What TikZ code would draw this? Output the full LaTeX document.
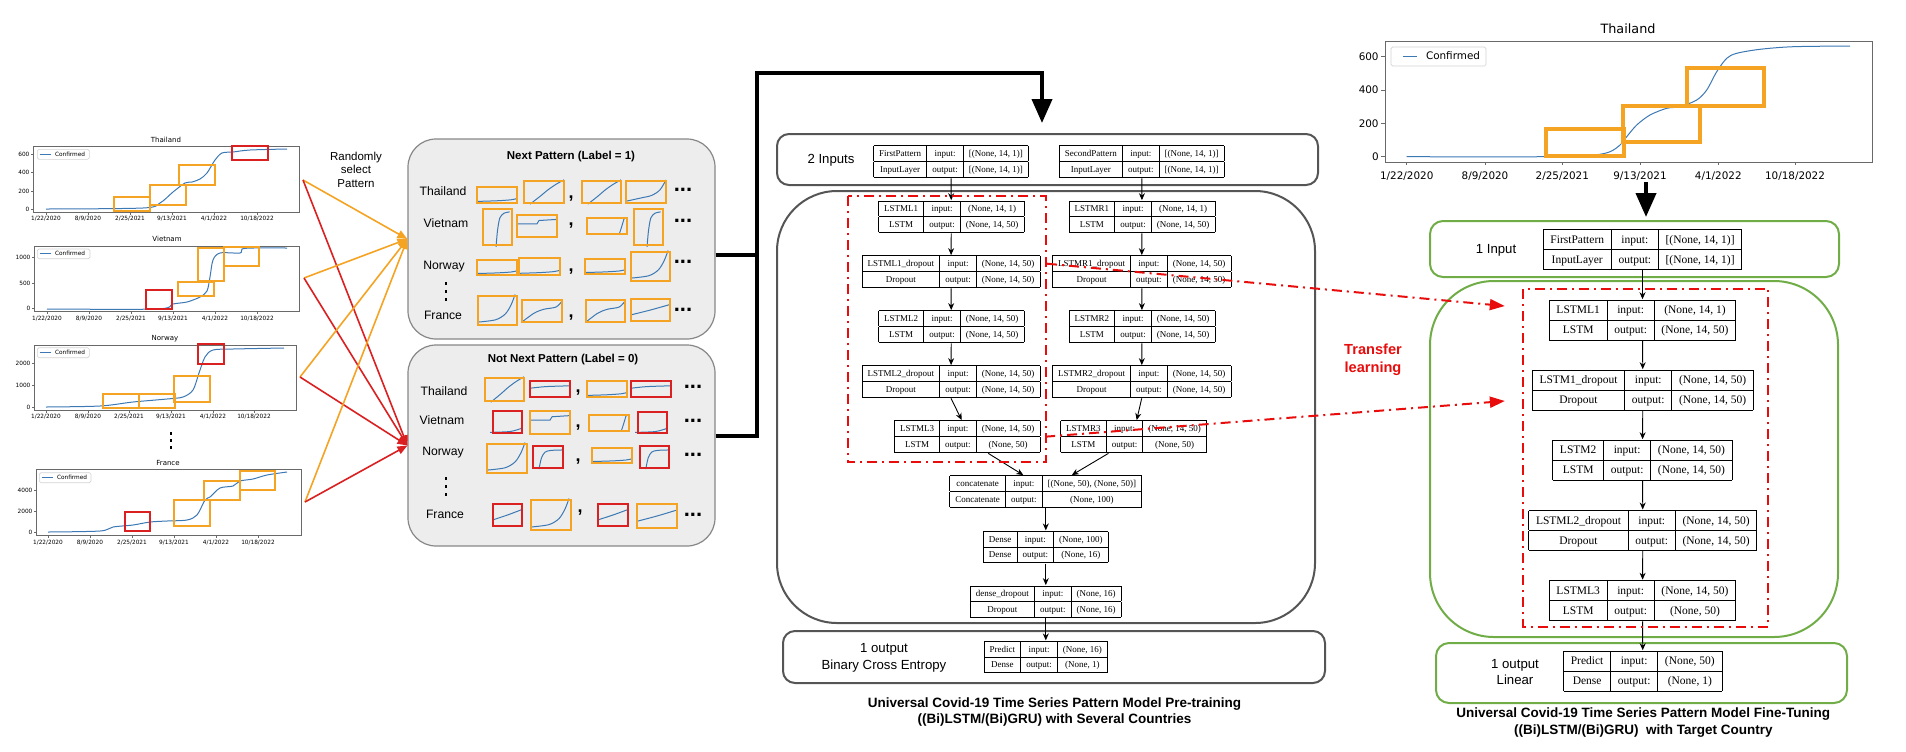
\documentclass[tikz,border=0pt]{standalone}
\usepackage{fontspec}
\setmainfont{Liberation Serif}
\setsansfont{Liberation Sans}
\newfontfamily\mplfont{DejaVu Sans}
\usetikzlibrary{arrows.meta,calc}

\definecolor{framegray}{RGB}{85,85,85}
\definecolor{patfill}{RGB}{237,237,237}
\definecolor{patdraw}{RGB}{135,135,135}
\definecolor{tlgreen}{RGB}{112,173,71}
\definecolor{pato}{RGB}{245,163,35}
\definecolor{patr}{RGB}{218,32,32}
\definecolor{keepred}{RGB}{232,12,12}
\definecolor{mplblue}{RGB}{60,120,180}
\definecolor{axisgray}{RGB}{105,105,105}

\renewcommand{\arraystretch}{1.39}

% keras layer table
\newcommand{\layer}[4]{\begin{tabular}{|c|c|c|}\hline #1 & input: & #3\\ \hline #2 & output: & #4\\ \hline\end{tabular}}

% date labels under a chart: style, axis y, label y, six x
\newcommand{\dates}[9]{%
  \foreach \x in {#4,#5,#6,#7,#8,#9} \draw[axis] (\x,#2) -- ++(0,3);
  \node[#1] at (#4,#3) {1/22/2020};
  \node[#1] at (#5,#3) {8/9/2020};
  \node[#1] at (#6,#3) {2/25/2021};
  \node[#1] at (#7,#3) {9/13/2021};
  \node[#1] at (#8,#3) {4/1/2022};
  \node[#1] at (#9,#3) {10/18/2022};}

% curve pieces of the small patterns (unit box, y down)
\newcommand{\cflat}{\draw[curve] plot[smooth] coordinates {(0,0.9) (0.5,0.86) (0.85,0.8) (1,0.72)};}
\newcommand{\crise}{\draw[curve] plot[smooth] coordinates {(0.15,1.05) (0.4,0.7) (0.6,0.4) (0.8,0.15) (1,-0.05)};}
\newcommand{\cmild}{\draw[curve] plot[smooth] coordinates {(0,0.92) (0.35,0.78) (0.65,0.65) (0.85,0.4) (1,-0.05)};}
\newcommand{\csteep}{\draw[curve] plot[smooth] coordinates {(0.45,1.05) (0.5,0.6) (0.58,0.25) (0.72,0.12) (0.92,0.08)};}
\newcommand{\csteepR}{\draw[curve] plot[smooth] coordinates {(0.8,1.05) (0.86,0.6) (0.92,0.1) (0.95,-0.05)}; \draw[curve] (0.55,0) -- (0.7,0);}
\newcommand{\cstep}{\draw[curve] (0,0.4) -- (0.5,0.4) -- (0.55,0.25) -- (1,0.2);}
\newcommand{\cknee}{\draw[curve] plot[smooth] coordinates {(0,0.9) (0.45,0.82) (0.7,0.62) (0.85,0.3) (0.95,-0.05)};}
\newcommand{\cgentle}{\draw[curve] plot[smooth] coordinates {(0,1) (0.3,0.6) (0.55,0.42) (0.85,0.32) (1,0.05)};}
\newcommand{\cslope}{\draw[curve] plot[smooth] coordinates {(0,0.72) (0.5,0.5) (1,0.25)};}
\newcommand{\cplateau}{\draw[curve] plot[smooth] coordinates {(0,0.45) (0.4,0.35) (1,0.3)};}
\newcommand{\clow}{\draw[curve] plot[smooth] coordinates {(-0.1,0.97) (0.6,0.93) (1,0.78)};}
\newcommand{\csat}{\draw[curve] plot[smooth] coordinates {(0.2,1.05) (0.28,0.55) (0.4,0.28) (0.6,0.2) (1,0.18)};}

% one small pattern: x1 y1 x2 y2 colour curve
\newcommand{\pat}[6]{%
  \pgfmathsetmacro{\pwid}{0.5*(#3-#1)}%
  \pgfmathsetmacro{\phgt}{-0.5*(#4-#2)}%
  \begin{scope}[shift={(#1,#2)}, x=\pwid pt, y=\phgt pt]
    \csname c#6\endcsname
    \draw[draw=#5, patline] (0,0) rectangle (1,1);
  \end{scope}}

\tikzset{
  axis/.style={draw=axisgray, line width=0.4pt},
  curve/.style={draw=mplblue, line width=0.5pt},
  legend/.style={draw=gray!35, line width=0.3pt, rounded corners=0.8pt},
  ctitle/.style={font=\mplfont\fontsize{3.5}{4}\selectfont, inner sep=0pt},
  tick/.style={font=\mplfont\fontsize{2.9}{3.4}\selectfont, inner sep=0.6pt},
  btitle/.style={font=\mplfont\fontsize{6.4}{7.5}\selectfont, inner sep=0pt},
  btick/.style={font=\mplfont\fontsize{5.2}{6}\selectfont, inner sep=1pt},
  obox/.style={draw=pato, line width=0.75pt},
  rbox/.style={draw=patr, line width=0.75pt},
  patline/.style={line width=0.75pt},
  pick/.style={draw=pato, line width=0.8pt, -{Triangle[length=5pt,width=4pt]}},
  drop/.style={draw=patr, line width=0.8pt, -{Triangle[length=5pt,width=4pt]}},
  patbox/.style={draw=patdraw, fill=patfill, line width=0.6pt, rounded corners=14pt},
  lab/.style={font=\sffamily\fontsize{6.1}{7.3}\selectfont, inner sep=0pt},
  ptitle/.style={font=\sffamily\bfseries\fontsize{5.75}{7}\selectfont, inner sep=0pt},
  comma/.style={font=\sffamily\bfseries\fontsize{9}{10}\selectfont, inner sep=0pt},
  more/.style={font=\sffamily\bfseries\fontsize{11}{12}\selectfont, inner sep=0pt},
  frame/.style={draw=framegray, line width=1pt, rounded corners=6pt},
  bigframe/.style={draw=framegray, line width=1pt, rounded corners=30pt},
  gframe/.style={draw=tlgreen, line width=1pt, rounded corners=6.5pt},
  biggframe/.style={draw=tlgreen, line width=1pt, rounded corners=32pt},
  layer/.style={inner sep=0pt, font=\fontsize{4.5}{5.4}\selectfont\setlength\tabcolsep{0.62em}},
  tlayer/.style={inner sep=0pt, font=\fontsize{5.75}{6.9}\selectfont\setlength\tabcolsep{0.63em}},
  flow/.style={line width=0.45pt, -{Stealth[length=3.5pt,width=3pt]}},
  feed/.style={line width=2pt},
  bigarrow/.style={line width=2pt, -{Triangle[length=12pt,width=10pt]}},
  keep/.style={draw=keepred, line width=1pt, dash pattern=on 5pt off 2.5pt on 1pt off 2.5pt},
  transfer/.style={keep, -{Triangle[length=7.5pt,width=5.5pt]}},
  side/.style={font=\sffamily\fontsize{6.6}{8.3}\selectfont, align=center, inner sep=0pt},
  caption/.style={font=\sffamily\bfseries\fontsize{6.75}{8.3}\selectfont, align=center, inner sep=0pt}
}

\begin{document}
\begin{tikzpicture}[x=0.5pt, y=-0.5pt]
\useasboundingbox (0,0) rectangle (1906,751);

%%%%% country charts (left)
%Thailand
\draw[axis] (33,146) rectangle (299,212);
\node[ctitle] (thT) at (166,140) {Thailand};
\foreach \y/\t in {154.7/600,172.7/400,191/200,209.3/0} \draw[axis] (33,\y) -- (31,\y) node[left, tick] (thY\t) {\t};
\dates{tick}{212}{219}{46}{88}{130}{172}{214}{257}
\draw[legend] (37.3,149.3) rectangle (89.3,159.3);
\draw[curve] (39.5,154.3) -- (50.5,154.3) node[right, tick, inner sep=2pt] (thL) {Confirmed};
\draw[curve] plot[smooth, tension=0.5] coordinates {(46,209) (143,208) (160,203) (173,192) (185,183) (192,182) (200,179) (207,173) (215,160) (222,153) (233,152) (250,150) (287,149)};
\draw[obox] (114,197) rectangle (150,211) (150,185) rectangle (186,205) (179,165) rectangle (215,185);
\draw[rbox] (232,146) rectangle (268,160);
\coordinate (thS) at (303,180);

%Vietnam
\draw[axis] (34,246) rectangle (299,311);
\node[ctitle] (viT) at (167,239) {Vietnam};
\foreach \y/\t in {257.7/1000,283.3/500,308.7/0} \draw[axis] (34,\y) -- (32,\y) node[left, tick] (viY\t) {\t};
\dates{tick}{311}{318.5}{47}{89}{131}{173}{215}{257}
\draw[legend] (37.3,249) rectangle (90,258.7);
\draw[curve] (39.5,253.8) -- (50.5,253.8) node[right, tick, inner sep=2pt] (viL) {Confirmed};
\draw[curve] plot[smooth, tension=0.5] coordinates {(47,309) (157,309) (173,304) (187,302) (200,297) (207,291) (210,277) (213,260) (220,253) (240,253) (242,249) (253,248) (287,248)};
\draw[obox] (178,282) rectangle (214,296) (198,248) rectangle (224,281) (224,247) rectangle (259,266);
\draw[rbox] (146,290) rectangle (172,309);
\coordinate (viS) at (304,278);

%Norway
\draw[axis] (34,345) rectangle (296,410);
\node[ctitle] (noT) at (165,339) {Norway};
\foreach \y/\t in {363.7/2000,385.3/1000,407/0} \draw[axis] (34,\y) -- (32,\y) node[left, tick] (noY\t) {\t};
\dates{tick}{410}{417}{46}{88}{129}{171}{213}{254}
\draw[legend] (37.3,347.7) rectangle (89.3,357.7);
\draw[curve] (39.5,352.7) -- (50.5,352.7) node[right, tick, inner sep=2pt] (noL) {Confirmed};
\draw[curve] plot[smooth, tension=0.5] coordinates {(46,407) (100,406) (133,402) (167,399) (183,397) (193,390) (199,373) (205,357) (213,350) (233,349) (284,348)};
\draw[obox] (103,394) rectangle (139,408) (139,394) rectangle (175,408) (174,376) rectangle (210,402);
\draw[rbox] (198,344) rectangle (224,364);
\coordinate (noS) at (300,377);

%dots between the charts
\foreach \y in {432,439,446} \fill (169.7,\y) rectangle ++(2.6,2.6);

%France
\draw[axis] (36,469) rectangle (301,535);
\node[ctitle] (frT) at (168,463) {France};
\foreach \y/\t in {490.3/4000,511.7/2000,532.3/0} \draw[axis] (36,\y) -- (34,\y) node[left, tick] (frY\t) {\t};
\dates{tick}{535}{542.5}{48}{90}{132}{174}{216}{258}
\draw[legend] (39.3,472.7) rectangle (91,482.7);
\draw[curve] (41.5,477.7) -- (52.5,477.7) node[right, tick, inner sep=2pt] (frL) {Confirmed};
\draw[curve] plot[smooth, tension=0.5] coordinates {(48,532) (100,531) (113,527) (133,525) (150,522) (167,521) (187,520) (197,515) (205,500) (210,497) (220,488) (233,486) (240,481) (253,479) (267,475) (287,472)};
\draw[obox] (174,500) rectangle (210,526) (204,481) rectangle (240,500) (240,471) rectangle (275,490);
\draw[rbox] (125,512) rectangle (150,531);
\coordinate (frS) at (305,502);

\node[side, font=\sffamily\fontsize{5.75}{6.75}\selectfont] (rand) at (356,169.5) {Randomly\\select\\Pattern};

%%%%% pattern pairs
\node[patbox, minimum width=153.5pt, minimum height=100pt] (nextbox) at (561.5,239) {};
\node[patbox, minimum width=153.5pt, minimum height=100.5pt] (notbox) at (561.5,445.5) {};

\foreach \s in {thS,viS,noS,frS} {
  \draw[pick] (\s) -- (nextbox.west);
  \draw[drop] (\s) -- (notbox.west);
}

\node[ptitle] (nextT) at (571,157) {Next Pattern (Label = 1)};
\node[lab] (n1) at (443,191) {Thailand};
\node[lab] (n2) at (446,223) {Vietnam};
\node[lab] (n3) at (444,267) {Norway};
\node[lab] (n4) at (443,315) {France};
\foreach \y in {282,290,298} \fill (444.7,\y) rectangle ++(2.6,2.6);

\node[ptitle] (notT) at (563,360) {Not Next Pattern (Label = 0)};
\node[lab] (m1) at (444,391) {Thailand};
\node[lab] (m2) at (442,420) {Vietnam};
\node[lab] (m3) at (443,453) {Norway};
\node[lab] (m4) at (445,514) {France};
\foreach \y in {477,485,493} \fill (444.7,\y) rectangle ++(2.6,2.6);

\foreach \xa/\ya/\xb/\yb/\c/\k in {
  477/187/517/203/pato/flat, 524/181/564/203/pato/rise, 582/181/621/203/pato/rise, 626/181/666/203/pato/mild,
  483/209/512/245/pato/steep, 517/215/557/237/pato/step, 587/218/627/234/pato/steepR, 634/209/663/245/pato/steep,
  477/260/517/275/pato/flat, 519/258/560/275/pato/flat, 585/259/625/274/pato/flat, 631/252/670/281/pato/knee,
  478/296/517/325/pato/knee, 522/300/562/322/pato/gentle, 586/300/625/322/pato/gentle, 631/299/670/321/pato/slope,
  485/378/524/401/pato/rise, 530/381/570/397/patr/plateau, 587/381/627/397/pato/flat, 631/381/671/397/patr/plateau,
  493/411/522/433/patr/low, 530/411/570/434/pato/step, 589/415/629/431/pato/steepR, 638/412/667/433/patr/low,
  487/444/527/473/pato/knee, 533/446/563/468/patr/sat, 592/448/632/463/pato/flat, 640/446/669/468/patr/sat,
  493/504/522/526/patr/slope, 531/500/571/530/pato/knee, 598/504/628/526/patr/slope, 637/504/677/528/pato/slope}
  {\pat{\xa}{\ya}{\xb}{\yb}{\c}{\k}}

\foreach \x/\y [count=\i] in {571/199,571/226,571/272,571/318,578/393,578/428,578/462,580/513} \node[comma] (cm\i) at (\x,\y) {,};
\foreach \x/\y [count=\i] in {683/190,683/221,683/262,683/310,693/387,693/421,693/455,693/515} \node[more] (mo\i) at (\x,\y) {...};

%%%%% pre-training model
\draw[feed] ([yshift=-8pt]nextbox.east) -- (757,255);
\coordinate (feedIn) at (1042,123);
\draw[feed, -{Triangle[length=12pt,width=10pt]}] ([yshift=5pt]notbox.east) -| (757,73) -| (feedIn);

\draw[frame] (777,134) rectangle (1318,185);
\draw[bigframe] (777,191) rectangle (1315,623);
\draw[frame] (783,631) rectangle (1325,683);
\node[side] (inT) at (831,160) {2 Inputs};
\node[side] (outT) at (884,658) {1 output\\Binary Cross Entropy};

\node[layer] (fp) at (951,161.7) {\layer{FirstPattern}{InputLayer}{[(None, 14, 1)]}{[(None, 14, 1)]}};
\node[layer] (sp) at (1141.8,161.7) {\layer{SecondPattern}{InputLayer}{[(None, 14, 1)]}{[(None, 14, 1)]}};
\node[layer] (l1) at (951.3,216.8) {\layer{LSTML1}{LSTM}{(None, 14, 1)}{(None, 14, 50)}};
\node[layer] (r1) at (1142,216.8) {\layer{LSTMR1}{LSTM}{(None, 14, 1)}{(None, 14, 50)}};
\node[layer] (l1d) at (951,271.7) {\layer{LSTML1\_dropout}{Dropout}{(None, 14, 50)}{(None, 14, 50)}};
\node[layer] (r1d) at (1141.7,271.7) {\layer{LSTMR1\_dropout}{Dropout}{(None, 14, 50)}{(None, 14, 50)}};
\node[layer] (l2) at (951.3,326.7) {\layer{LSTML2}{LSTM}{(None, 14, 50)}{(None, 14, 50)}};
\node[layer] (r2) at (1142,326.7) {\layer{LSTMR2}{LSTM}{(None, 14, 50)}{(None, 14, 50)}};
\node[layer] (l2d) at (951,381.7) {\layer{LSTML2\_dropout}{Dropout}{(None, 14, 50)}{(None, 14, 50)}};
\node[layer] (r2d) at (1141.7,381.7) {\layer{LSTMR2\_dropout}{Dropout}{(None, 14, 50)}{(None, 14, 50)}};
\node[layer] (l3) at (967.2,436.7) {\layer{LSTML3}{LSTM}{(None, 14, 50)}{(None, 50)}};
\node[layer] (r3) at (1133.5,436.7) {\layer{LSTMR3}{LSTM}{(None, 14, 50)}{(None, 50)}};
\node[layer] (cat) at (1045.8,491.7) {\layer{concatenate}{Concatenate}{[(None, 50), (None, 50)]}{(None, 100)}};
\node[layer] (dense) at (1045.8,547) {\layer{Dense}{Dense}{(None, 100)}{(None, 16)}};
\node[layer] (dd) at (1045.8,601.7) {\layer{dense\_dropout}{Dropout}{(None, 16)}{(None, 16)}};
\node[layer] (pred) at (1045.8,657) {\layer{Predict}{Dense}{(None, 16)}{(None, 1)}};

\draw[flow] (fp) -- (l1);
\draw[flow] (sp) -- (r1);
\draw[flow] (l1) -- (l1d);
\draw[flow] (r1) -- (r1d);
\draw[flow] (l1d) -- (l2);
\draw[flow] (r1d) -- (r2);
\draw[flow] (l2) -- (l2d);
\draw[flow] (r2) -- (r2d);
\draw[flow] (l2d.south) -- ([xshift=-2.75pt]l3.north);
\draw[flow] (r2d.south) -- ([xshift=1.6pt]r3.north);
\draw[flow] ([xshift=10.5pt]l3.south) -- ([xshift=-11.25pt]cat.north);
\draw[flow] ([xshift=-12.5pt]r3.south) -- ([xshift=13pt]cat.north);
\draw[flow] (cat) -- (dense);
\draw[flow] (dense) -- (dd);
\draw[flow] (dd) -- (pred);

\draw[keep] (847.7,196) rectangle (1045.7,462.3);

\node[caption] (preT) at (1054.5,712) {Universal Covid-19 Time Series Pattern Model Pre-training\\((Bi)LSTM/(Bi)GRU) with Several Countries};

%%%%% target country chart (right)
\draw[axis] (1385,41) rectangle (1872,162);
\node[btitle] (tgT) at (1628,29) {Thailand};
\foreach \y/\t in {56.7/600,90/400,123.3/200,156.7/0} \draw[axis] (1385,\y) -- (1381,\y) node[left, btick] (tgY\t) {\t};
\dates{btick}{162}{175.7}{1406.7}{1485}{1562.3}{1640}{1718.3}{1795}
\draw[legend] (1391,47) rectangle (1486,66);
\draw[curve] (1403,56) -- (1417,56);
\node[btick] (tgL) at (1453,56) {Confirmed};
\draw[curve] plot[smooth, tension=0.5] coordinates {(1406.7,156.7) (1543.3,156.7) (1593.3,155) (1610,151.7) (1620,145) (1626.7,136.7) (1636.7,125) (1650,115) (1666.7,108.3) (1680,106.7) (1696.7,100) (1706.7,90) (1716.7,71.7) (1726.7,58.3) (1736.7,53.3) (1760,49.3) (1793.3,46.7) (1850,46)};
\draw[draw=pato, line width=2pt] (1545.7,129.3) rectangle (1624,155.7) (1623.3,105.7) rectangle (1700,142.3) (1686.7,68.3) rectangle (1764,105.7);

\coordinate (tgOut) at (1646,182);
\coordinate (tgIn) at (1646,217);
\draw[bigarrow] (tgOut) -- (tgIn);

%%%%% fine-tuning model
\draw[gframe] (1430,221) rectangle (1839,277);
\draw[biggframe] (1430,281) rectangle (1838,637);
\draw[gframe] (1436,643) rectangle (1847,703);
\node[side] (tinT) at (1496,250) {1 Input};
\node[side] (toutT) at (1515,672) {1 output\\Linear};

\node[tlayer] (tfp) at (1642.5,249.7) {\layer{FirstPattern}{InputLayer}{[(None, 14, 1)]}{[(None, 14, 1)]}};
\node[tlayer] (tl1) at (1642.5,320) {\layer{LSTML1}{LSTM}{(None, 14, 1)}{(None, 14, 50)}};
\node[tlayer] (tl1d) at (1642.8,390) {\layer{LSTM1\_dropout}{Dropout}{(None, 14, 50)}{(None, 14, 50)}};
\node[tlayer] (tl2) at (1642.5,460) {\layer{LSTM2}{LSTM}{(None, 14, 50)}{(None, 14, 50)}};
\node[tlayer] (tl2d) at (1642.8,530.3) {\layer{LSTML2\_dropout}{Dropout}{(None, 14, 50)}{(None, 14, 50)}};
\node[tlayer] (tl3) at (1642.5,600.5) {\layer{LSTML3}{LSTM}{(None, 14, 50)}{(None, 50)}};
\node[tlayer] (tpred) at (1642.8,671) {\layer{Predict}{Dense}{(None, 50)}{(None, 1)}};

\draw[flow] (tfp) -- (tl1);
\draw[flow] (tl1) -- (tl1d);
\draw[flow] (tl1d) -- (tl2);
\draw[flow] (tl2) -- (tl2d);
\draw[flow] (tl2d) -- (tl3);
\draw[flow] (tl3) -- (tpred);

\draw[keep] (1523.3,289) rectangle (1768.3,626.7);

%transfer of the trained layers
\draw[transfer] ($(r1d.west)+(-5,-8)$) -- ($(tl1.west)+(-44,-14)$);
\draw[transfer] ($(r3.west)+(-15,0)$) -- ($(tl1d.west)+(-27,11)$);
\node[side, font=\sffamily\bfseries\fontsize{7.3}{9}\selectfont, text=keepred] (tlT) at (1373,360) {Transfer\\learning};

\node[caption] (ftT) at (1643.3,722.5) {Universal Covid-19 Time Series Pattern Model Fine-Tuning\\((Bi)LSTM/(Bi)GRU)\ \ with Target Country};
\end{tikzpicture}
\end{document}
